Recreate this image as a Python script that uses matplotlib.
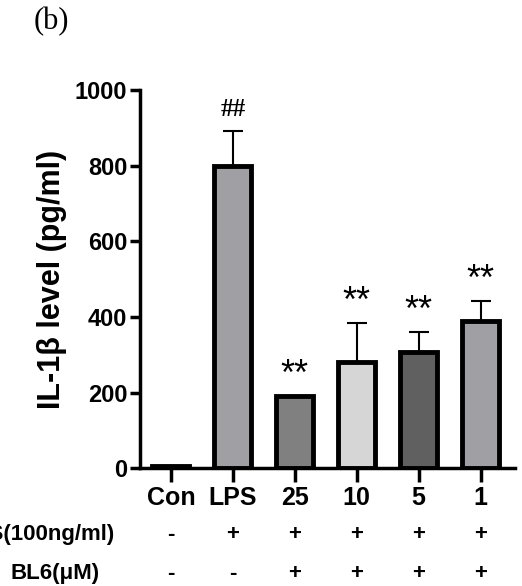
import matplotlib
matplotlib.use("Agg")
import matplotlib.pyplot as plt

groups = ["Con", "LPS", "25", "10", "5", "1"]
values = [5, 800, 190, 280, 307, 389]
errors = [0, 93, 0, 105, 53, 53]
colors = ["#a0a0a4", "#a0a0a4", "#808080", "#d6d6d6", "#606060", "#a0a0a4"]
marks = ["", "##", "**", "**", "**", "**"]
lps_row = ["-", "+", "+", "+", "+", "+"]
bl6_row = ["-", "-", "+", "+", "+", "+"]

plt.rcParams['font.family'] = ['Liberation Sans', 'DejaVu Sans']
fig = plt.figure(figsize=(5.22, 5.86), dpi=100)
ax = fig.add_axes([0.268, 0.201, 0.718, 0.645])

x = list(range(len(groups)))
ax.bar(x, values, width=0.6, color=colors, edgecolor="black", linewidth=3.5)
ax.errorbar(x, values, yerr=[[0]*len(errors), errors], fmt="none", ecolor="black",
            elinewidth=1.5, capsize=7, capthick=1.5)
for xi, v, e, m in zip(x, values, errors, marks):
    if m:
        if m == "**":
            ax.text(xi, v + e + 8, m, ha="center", va="bottom", fontsize=26)
        else:
            ax.text(xi, v + e + 25, m, ha="center", va="bottom", fontsize=18,
                    fontweight="bold", fontfamily="Liberation Serif")

ax.set_xlim(-0.5, len(groups) - 0.45)
ax.set_ylim(0, 1000)
ax.set_yticks([0, 200, 400, 600, 800, 1000])
ax.set_xticks(x)
ax.set_xticklabels(groups, fontsize=18, fontweight="bold")
ax.tick_params(axis="y", labelsize=17, width=2.5, length=7, pad=2)
ax.tick_params(axis="x", width=2.5, length=10, pad=3)
for lab in ax.get_yticklabels():
    lab.set_fontweight("bold")
for s in ["top", "right"]:
    ax.spines[s].set_visible(False)
for s in ["left", "bottom"]:
    ax.spines[s].set_linewidth(2.5)
ax.set_ylabel("IL-1β level (pg/ml)", fontsize=22, fontweight="bold", labelpad=6)

tr = ax.get_xaxis_transform()
for xi, a, b in zip(x, lps_row, bl6_row):
    ax.text(xi, -0.175, a, transform=tr, ha="center", va="center",
            fontsize=16, fontweight="bold")
    ax.text(xi, -0.278, b, transform=tr, ha="center", va="center",
            fontsize=16, fontweight="bold")
fig.text(115 / 522, 0.201 - 0.175 * 0.645, "LPS(100ng/ml)", ha="right", va="center",
         fontsize=16, fontweight="bold")
fig.text(100 / 522, 0.201 - 0.278 * 0.645, "BL6(μM)", ha="right", va="center",
         fontsize=16, fontweight="bold")

fig.text(0.065, 0.95, "(b)", fontsize=22, fontfamily="Liberation Serif")

fig.savefig("out.png", dpi=100)
